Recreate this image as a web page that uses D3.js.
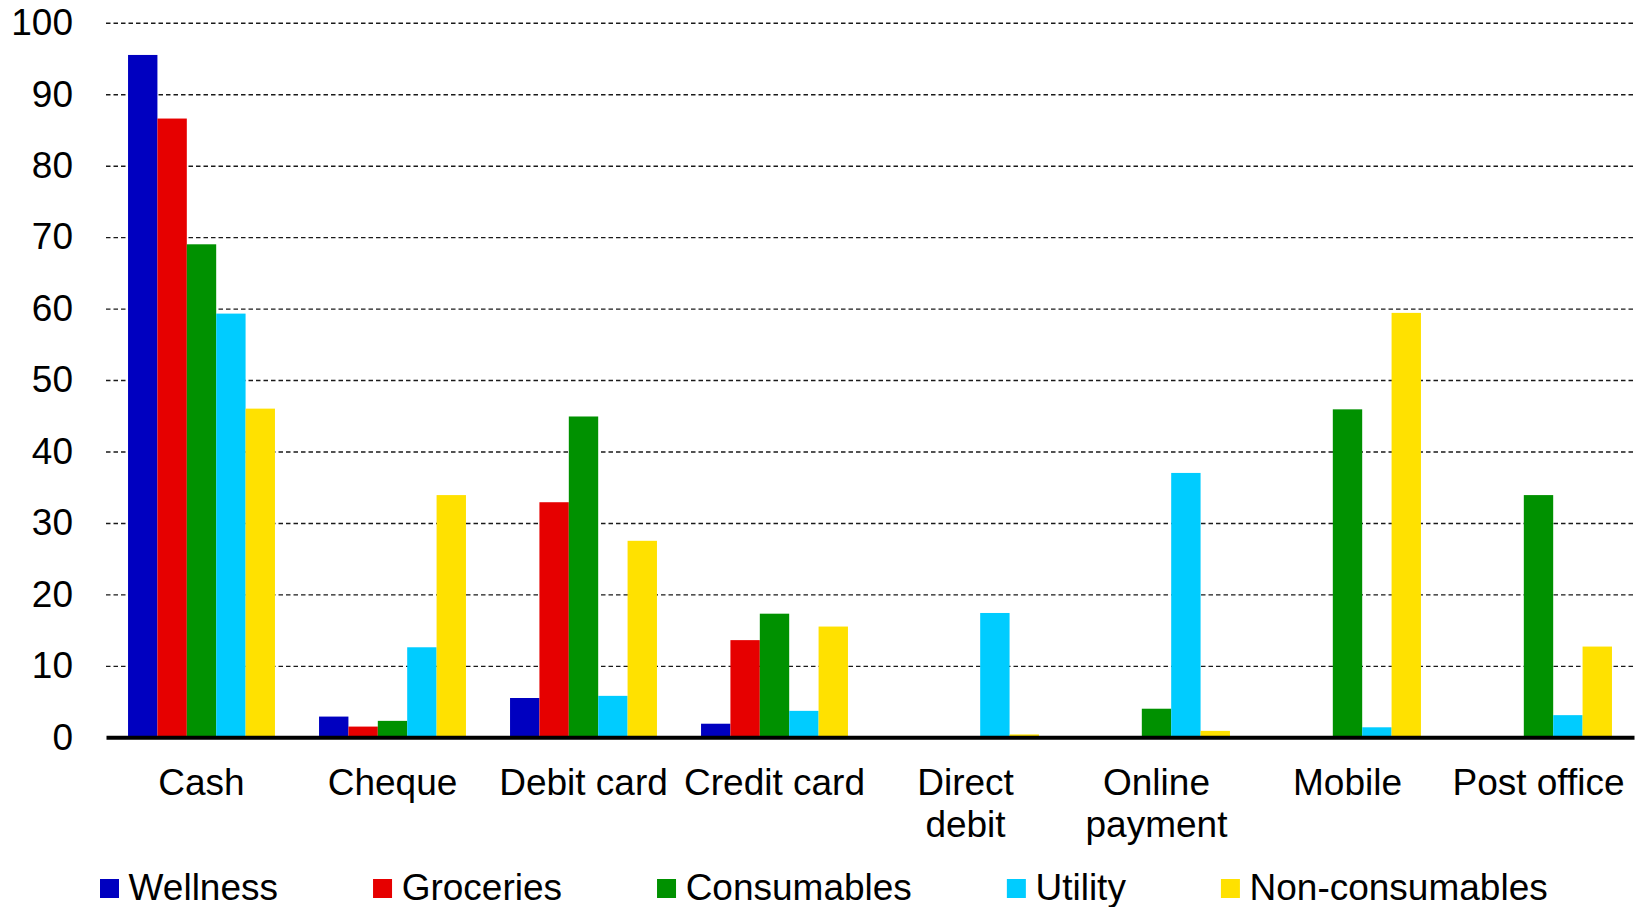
<!DOCTYPE html>
<html>
<head>
<meta charset="utf-8">
<script src="https://cdn.jsdelivr.net/npm/d3@7/dist/d3.min.js"></script>
<style>
  html, body { margin: 0; padding: 0; background: #fff; }
  svg { display: block; font-family: "Liberation Sans", Arial, sans-serif; }
</style>
</head>
<body>
<svg id="chart" width="1640" height="907"></svg>
<script>
const categories = ["Cash", "Cheque", "Debit card", "Credit card", "Direct debit", "Online payment", "Mobile", "Post office"];
const categoryLabels = [["Cash"], ["Cheque"], ["Debit card"], ["Credit card"], ["Direct", "debit"], ["Online", "payment"], ["Mobile"], ["Post office"]];
const seriesNames = ["Wellness", "Groceries", "Consumables", "Utility", "Non-consumables"];
const seriesColors = ["#0000C0", "#E60000", "#009100", "#00CCFF", "#FFE100"];
const wellness       = [95.5, 2.9, 5.5, 1.9, 0,    0,    0,    0];
const groceries      = [86.6, 1.5, 32.9, 13.6, 0,  0,    0,    0];
const consumables    = [69.0, 2.3, 44.9, 17.3, 0,  4.0,  45.9, 33.9];
const utility        = [59.3, 12.6, 5.8, 3.7, 17.4, 37.0, 1.4, 3.1];
const nonConsumables = [46.0, 33.9, 27.5, 15.5, 0.4, 0.9, 59.4, 12.7];
const yTicks = [0, 10, 20, 30, 40, 50, 60, 70, 80, 90, 100];

const seriesValues = [wellness, groceries, consumables, utility, nonConsumables];

const svg = d3.select("#chart");
const mLeft = 106, mRight = 1634, mTop = 22.8, mBottom = 737.3;
const FS = 37;

const x0 = d3.scaleBand().domain(categories).range([mLeft, mRight]).paddingInner(0).paddingOuter(0);
const groupWidth = x0.bandwidth() * 5 / 6.5;
const x1 = d3.scaleBand().domain(seriesNames).range([0, groupWidth]).padding(0);
const y = d3.scaleLinear().domain([0, 100]).range([mBottom, mTop]);

// gridlines
const grid = svg.append("g")
  .attr("transform", `translate(${mLeft},0)`)
  .call(d3.axisLeft(y).tickValues(yTicks.filter(d => d > 0)).tickSize(-(mRight - mLeft)).tickFormat(""));
grid.select(".domain").remove();
grid.selectAll("line")
  .attr("stroke", "#1a1a1a")
  .attr("stroke-width", 1.4)
  .attr("stroke-dasharray", "4.5,3");

// y axis labels
const yAxis = svg.append("g")
  .attr("transform", `translate(${mLeft},0)`)
  .call(d3.axisLeft(y).tickValues(yTicks).tickSize(0).tickPadding(33));
yAxis.select(".domain").remove();
yAxis.selectAll("text")
  .attr("font-size", FS)
  .attr("fill", "#000")
  .style("font-family", "'Liberation Sans', Arial, sans-serif");

// bars
const groups = svg.append("g").selectAll("g")
  .data(categories)
  .join("g")
  .attr("transform", d => `translate(${x0(d) + (x0.bandwidth() - groupWidth) / 2},0)`);

groups.selectAll("rect")
  .data((c, i) => seriesNames.map((s, k) => ({ s, k, v: seriesValues[k][i] })))
  .join("rect")
  .attr("x", d => x1(d.s))
  .attr("width", x1.bandwidth())
  .attr("y", d => y(d.v))
  .attr("height", d => y(0) - y(d.v))
  .attr("fill", d => seriesColors[d.k]);

// x axis line
svg.append("g")
  .attr("transform", `translate(0,${mBottom})`)
  .call(d3.axisBottom(x0).tickSize(0).tickFormat(""))
  .call(g => g.select(".domain").attr("stroke", "#000").attr("stroke-width", 4));

// x labels
const xl = svg.append("g");
categories.forEach((c, i) => {
  const t = xl.append("text")
    .attr("x", x0(c) + x0.bandwidth() / 2)
    .attr("y", 795)
    .attr("text-anchor", "middle")
    .attr("font-size", FS)
    .attr("fill", "#000");
  categoryLabels[i].forEach((line, j) => {
    t.append("tspan")
      .attr("x", x0(c) + x0.bandwidth() / 2)
      .attr("dy", j === 0 ? 0 : 42)
      .text(line);
  });
});

// legend
const legend = svg.append("g");
let lx = 100;
seriesNames.forEach((s, k) => {
  legend.append("rect")
    .attr("x", lx).attr("y", 879).attr("width", 19).attr("height", 19)
    .attr("fill", seriesColors[k]);
  const t = legend.append("text")
    .attr("x", lx + 28.6).attr("y", 900)
    .attr("font-size", FS)
    .attr("fill", "#000")
    .text(s);
  lx = lx + 28.6 + t.node().getComputedTextLength() + 95;
});
</script>
</body>
</html>
